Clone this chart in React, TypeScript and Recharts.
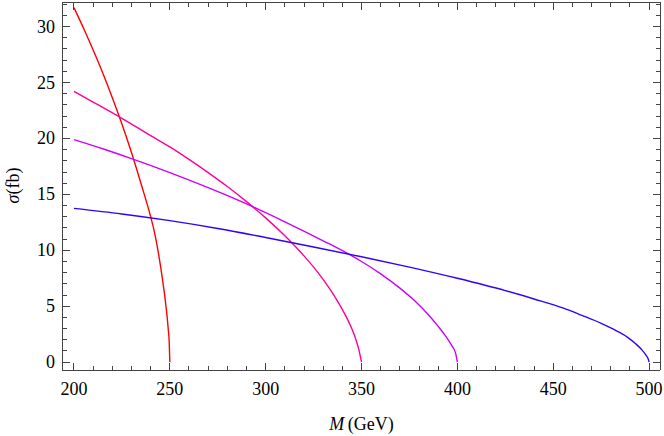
import { LineChart, Line, XAxis, YAxis } from "recharts";

// Frame limits
const X_DOMAIN: [number, number] = [193.75, 505.7];
const Y_DOMAIN: [number, number] = [-0.7, 32.2];

const xTicks = [
  200, 210, 220, 230, 240, 250, 260, 270, 280, 290, 300, 310, 320, 330, 340, 350,
  360, 370, 380, 390, 400, 410, 420, 430, 440, 450, 460, 470, 480, 490, 500,
];
const yTicks = [
  0, 1, 2, 3, 4, 5, 6, 7, 8, 9, 10, 11, 12, 13, 14, 15, 16, 17, 18, 19, 20, 21, 22,
  23, 24, 25, 26, 27, 28, 29, 30, 31, 32,
];

// M = 250 GeV threshold (red)
const redM = [
  200, 205, 210, 215, 220, 225, 230, 235, 240, 242, 244, 246, 247.5, 248.5, 249.2,
  249.7, 250,
];
const redSigma = [
  31.7, 29.85, 27.9, 25.85, 23.65, 21.3, 18.75, 15.95, 13.0, 11.6, 9.8, 7.6, 5.7, 4.2,
  2.9, 1.7, 0,
];

// M = 350 GeV threshold (pink)
const pinkM = [
  200, 210, 225, 240, 250, 260, 270, 280, 290, 300, 310, 320, 327, 333, 338, 342, 345,
  347, 348.5, 349.5, 350,
];
const pinkSigma = [
  24.2, 23.25, 21.8, 20.25, 19.25, 18.13, 16.95, 15.7, 14.35, 12.9, 11.3, 9.5, 8.07,
  6.66, 5.31, 4.07, 2.96, 2.06, 1.19, 0.4, 0,
];

// M = 400 GeV threshold (purple)
const purpleM = [
  200, 215, 230, 250, 270, 290, 310, 330, 345, 350, 360, 370, 378, 385, 390, 394, 397,
  399, 400,
];
const purpleSigma = [
  19.9, 19.08, 18.2, 16.95, 15.6, 14.15, 12.55, 10.85, 9.5, 9.0, 7.9, 6.62, 5.45, 4.22,
  3.2, 2.3, 1.5, 0.85, 0,
];

// M = 500 GeV threshold (blue)
const blueM = [
  200, 225, 250, 275, 300, 325, 350, 375, 400, 425, 440, 455, 465, 475, 483, 489, 493,
  496, 498.3, 499.5, 500,
];
const blueSigma = [
  13.75, 13.25, 12.65, 11.95, 11.15, 10.3, 9.42, 8.5, 7.5, 6.4, 5.65, 4.85, 4.18, 3.47,
  2.8, 2.2, 1.65, 1.15, 0.65, 0.3, 0,
];

const toSeries = (ms: number[], sigmas: number[]) =>
  ms.map((m, i) => ({ m, sigma: sigmas[i] }));

const series = [
  { key: "red", color: "#ff0000", data: toSeries(redM, redSigma) },
  { key: "pink", color: "#ff0099", data: toSeries(pinkM, pinkSigma) },
  { key: "purple", color: "#cc00ff", data: toSeries(purpleM, purpleSigma) },
  { key: "blue", color: "#3300ff", data: toSeries(blueM, blueSigma) },
];

const FRAME = "#444444";
const FONT = "'Liberation Serif', 'Times New Roman', serif";
const FONT_SIZE = 18;
const MAJOR = 7.5;
const MINOR = 4.5;

const isMajorX = (v: number) => v % 50 === 0;
const isMajorY = (v: number) => v % 5 === 0;

// frame ticks point inward, Mathematica style
function TickMark({ x1, y1, x2, y2 }: { x1: number; y1: number; x2: number; y2: number }) {
  return (
    <line x1={x1} y1={y1} x2={x2} y2={y2} stroke={FRAME} strokeWidth={1} shapeRendering="crispEdges" />
  );
}

function BottomTick(props: any) {
  const { x, y, payload } = props;
  const major = isMajorX(payload.value);
  return (
    <g>
      <TickMark x1={x} y1={y} x2={x} y2={y - (major ? MAJOR : MINOR)} />
      {major && (
        <text x={x} y={y + 25} textAnchor="middle" fontFamily={FONT} fontSize={FONT_SIZE} fill="#000">
          {payload.value}
        </text>
      )}
    </g>
  );
}

function TopTick(props: any) {
  const { x, y, payload } = props;
  const major = isMajorX(payload.value);
  return <TickMark x1={x} y1={y} x2={x} y2={y + (major ? MAJOR : MINOR)} />;
}

function LeftTick(props: any) {
  const { x, y, payload } = props;
  const major = isMajorY(payload.value);
  return (
    <g>
      <TickMark x1={x} y1={y} x2={x + (major ? MAJOR : MINOR)} y2={y} />
      {major && (
        <text x={x - 7} y={y + 6} textAnchor="end" fontFamily={FONT} fontSize={FONT_SIZE} fill="#000">
          {payload.value}
        </text>
      )}
    </g>
  );
}

function RightTick(props: any) {
  const { x, y, payload } = props;
  const major = isMajorY(payload.value);
  return <TickMark x1={x} y1={y} x2={x - (major ? MAJOR : MINOR)} y2={y} />;
}

const frameLine = { stroke: FRAME, strokeWidth: 1, shapeRendering: "crispEdges" };

export default function App() {
  return (
    <div style={{ position: "absolute", left: 0, top: 0, width: 664, height: 436, background: "#fff" }}>
      <LineChart width={664} height={436} margin={{ top: 1, right: 3, bottom: 0, left: 0 }}>
        <XAxis type="number" dataKey="m" domain={X_DOMAIN} ticks={xTicks} interval={0}
          allowDataOverflow height={66} tickSize={0} tickMargin={0} tickLine={false}
          axisLine={frameLine} tick={<BottomTick />} />
        <XAxis xAxisId="top" orientation="top" type="number" dataKey="m" domain={X_DOMAIN}
          ticks={xTicks} interval={0} allowDataOverflow height={1} tickSize={0} tickMargin={0}
          tickLine={false} axisLine={frameLine} tick={<TopTick />} />
        <YAxis type="number" domain={Y_DOMAIN} ticks={yTicks} interval={0} allowDataOverflow
          width={62} tickSize={0} tickMargin={0} tickLine={false}
          axisLine={frameLine} tick={<LeftTick />} />
        <YAxis yAxisId="right" orientation="right" type="number" domain={Y_DOMAIN} ticks={yTicks}
          interval={0} allowDataOverflow width={1} tickSize={0} tickMargin={0} tickLine={false}
          axisLine={frameLine} tick={<RightTick />} />
        {series.map((s) => (
          <Line key={s.key} data={s.data} dataKey="sigma" type="monotone" stroke={s.color}
            strokeWidth={1.4} dot={false} activeDot={false} isAnimationActive={false} />
        ))}
        {/* transparent copy tied to the top/right frame axes */}
        <Line xAxisId="top" yAxisId="right" data={series[3].data} dataKey="sigma" type="monotone"
          stroke="#3300ff" strokeOpacity={0} dot={false} activeDot={false} isAnimationActive={false} />
      </LineChart>
      {/* axis titles */}
      <svg width={664} height={436} style={{ position: "absolute", left: 0, top: 0, pointerEvents: "none" }}>
        <text x={361.5} y={430} textAnchor="middle" fontFamily={FONT} fontSize={FONT_SIZE} fill="#000">
          <tspan fontStyle="italic">M</tspan>
          <tspan>{"\u2009(GeV)"}</tspan>
        </text>
        <text x={19} y={185.5} transform="rotate(-90, 19, 185.5)" textAnchor="middle" fontFamily={FONT} fontSize={FONT_SIZE} fill="#000">
          <tspan fontStyle="italic">σ</tspan>
          <tspan>(fb)</tspan>
        </text>
      </svg>
    </div>
  );
}
